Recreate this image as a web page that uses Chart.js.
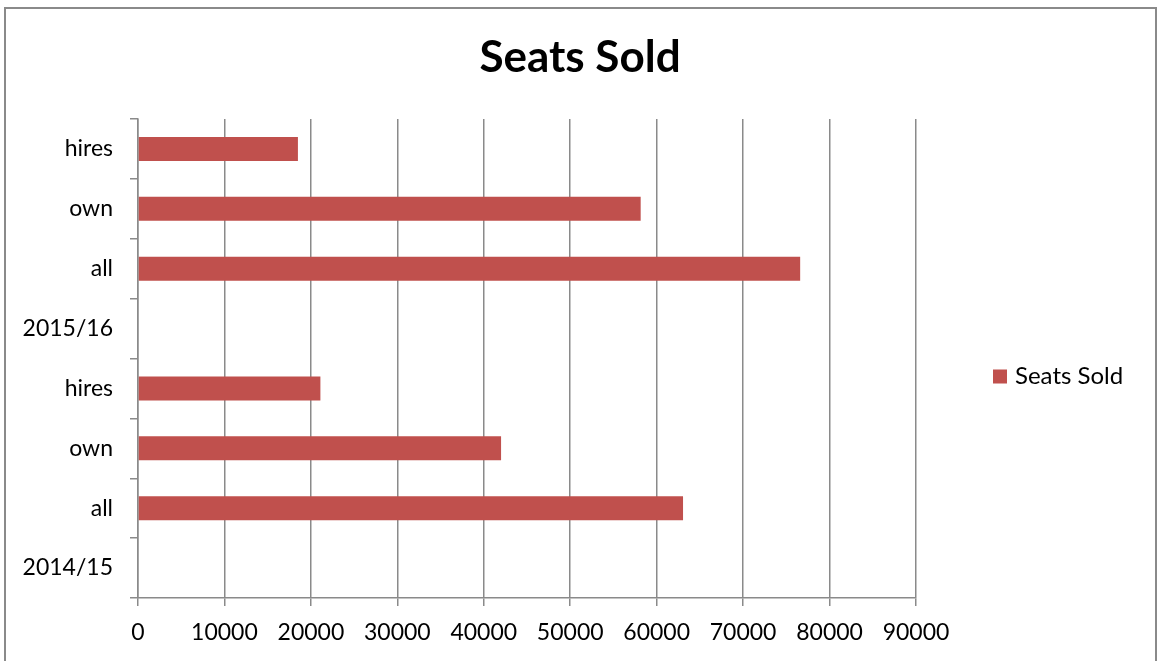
<!DOCTYPE html>
<html>
<head>
<meta charset="utf-8">
<title>Seats Sold</title>
<script src="https://cdn.jsdelivr.net/npm/chart.js@4"></script>
<style>
  html, body { margin: 0; padding: 0; background: #ffffff; }
  #wrap { position: relative; width: 1160px; height: 661px; }
</style>
</head>
<body>
<div id="wrap"><canvas id="chart" width="1160" height="661"></canvas></div>
<script>
// Season breakdown, listed bottom-up as on the vertical axis
const categories = ['2014/15', 'all', 'own', 'hires', '2015/16', 'all', 'own', 'hires'];
const seatsSold = [null, 63050, 42000, 21100, null, 76600, 58150, 18500];
const xTicks = [0, 10000, 20000, 30000, 40000, 50000, 60000, 70000, 80000, 90000];
const seriesName = 'Seats Sold';
const chartTitle = 'Seats Sold';

const FONT = 'Lato, "Open Sans", sans-serif';
const GRID = '#8a8a8a';

// Outer frame around the chart object
const framePlugin = {
  id: 'frame',
  beforeDraw(chart) {
    const ctx = chart.ctx;
    ctx.save();
    ctx.strokeStyle = '#8a8a8a';
    ctx.lineWidth = 2;
    ctx.strokeRect(5, 8, 1151, 700);
    ctx.restore();
  }
};

// Title centred across the whole chart object, legend entry on the right
const decorations = {
  id: 'decorations',
  afterDraw(chart) {
    const ctx = chart.ctx;
    const ds = chart.data.datasets[0];
    ctx.save();
    ctx.fillStyle = '#000000';
    ctx.font = 'bold 44px ' + FONT;
    ctx.textAlign = 'center';
    ctx.textBaseline = 'middle';
    ctx.fillText(chartTitle, chart.width / 2, 58);

    const cy = (chart.chartArea.top + chart.chartArea.bottom) / 2 + 18;
    ctx.fillStyle = ds.backgroundColor;
    ctx.fillRect(993, cy - 7, 14, 14);
    ctx.fillStyle = '#000000';
    ctx.font = '24px ' + FONT;
    ctx.textAlign = 'left';
    ctx.fillText(ds.label, 1015, cy);
    ctx.restore();
  }
};

new Chart(document.getElementById('chart'), {
  type: 'bar',
  data: {
    labels: categories,
    datasets: [{
      label: seriesName,
      data: seatsSold,
      backgroundColor: '#C0504D',
      borderWidth: 0,
      categoryPercentage: 1,
      barPercentage: 0.4
    }]
  },
  options: {
    indexAxis: 'y',
    responsive: false,
    animation: false,
    events: [],
    layout: { padding: { top: 119, right: 244, bottom: 0, left: 0 } },
    plugins: {
      legend: { display: false },
      tooltip: { enabled: false },
      title: { display: false }
    },
    scales: {
      x: {
        type: 'linear',
        min: 0,
        max: 90000,
        afterBuildTicks(scale) { scale.ticks = xTicks.map(v => ({ value: v })); },
        afterFit(scale) { scale.height = 63; },
        grid: {
          color: GRID,
          lineWidth: 1.5,
          drawTicks: true,
          tickLength: 8,
          tickColor: GRID
        },
        border: { display: true, color: GRID, width: 1.5 },
        ticks: {
          color: '#000000',
          font: { family: FONT, size: 23 },
          padding: 13,
          maxRotation: 0,
          autoSkip: false,
          callback: (v) => String(v)
        }
      },
      y: {
        type: 'category',
        reverse: true,
        offset: true,
        afterFit(scale) { scale.width = 138; },
        grid: {
          offset: true,
          drawOnChartArea: false,
          drawTicks: true,
          tickLength: 8,
          color: GRID,
          lineWidth: 1.5
        },
        border: { display: true, color: GRID, width: 1.5 },
        ticks: {
          color: '#000000',
          font: { family: FONT, size: 23 },
          padding: 17,
          autoSkip: false
        }
      }
    }
  },
  plugins: [framePlugin, decorations]
});
</script>
</body>
</html>
